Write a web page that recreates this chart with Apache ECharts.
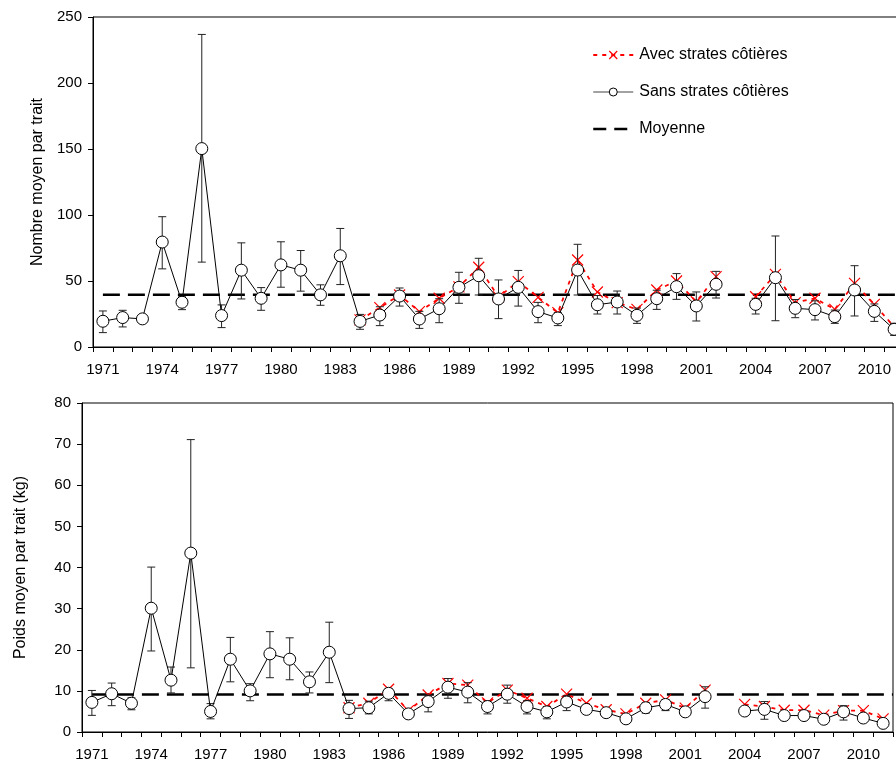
<!DOCTYPE html>
<html><head><meta charset="utf-8">
<script src="https://cdn.jsdelivr.net/npm/echarts@6/dist/echarts.min.js"></script>
<style>html,body{margin:0;padding:0;background:#fff}#c{width:896px;height:761px}</style>
</head><body><div id="c"></div>
<script>
const years = ['1971','1972','1973','1974','1975','1976','1977','1978','1979','1980','1981','1982','1983','1984','1985','1986','1987','1988','1989','1990','1991','1992','1993','1994','1995','1996','1997','1998','1999','2000','2001','2002','2003','2004','2005','2006','2007','2008','2009','2010','2011'];

const nombreSans = [19.5,22.3,21.3,79.5,33.9,150.3,23.8,58.2,36.9,62.2,58.2,39.5,69.1,
  19.4,24.2,38.6,21.2,29,45.2,54,36.4,45.2,26.8,22,58.3,32,34.1,24,36.6,45.7,31.1,47.5,
  null,32.3,52.5,29.3,28.3,23,43.2,27,13.4];
const nombreAvec = [null,null,null,null,null,null,null,null,null,null,null,null,null,
  20.5,29.8,39.4,26.8,36.9,45.5,60.4,38,49.5,37.6,26,65.9,41.7,33.6,28.5,43.2,50,34.3,53.3,
  null,38.1,55,33.6,36.9,28.5,48.2,32.3,15.4];
const nombreErr = [[10.9,27.3],[15.2,27.8],[20,22.5],[59.2,98.7],[28.3,38],[64.3,236.8],[14.7,31.9],[36.4,78.9],[27.8,45],[45.3,79.7],[42.3,73.1],[31.6,47.1],[47.3,89.8],
  [13.4,24.7],[16.2,30.5],[31,44.7],[14.1,27],[18.4,36.6],[33.1,56.6],[39.4,67.2],[21.5,50.8],[31,58],[18.4,33.8],[16.2,26],[39.4,77.8],[25,39],[25,42.4],[17.9,29.5],[28.5,43],[36.1,55.6],[19.7,41.7],[37.1,57.3],
  null,[25,36.9],[19.9,84.1],[22.2,36],[20.5,35],[17.9,28],[23.5,61.6],[19.4,32.6],[8.8,18]];
const meanNombre = 39.5;

const poidsSans = [7.2,9.3,7.0,30.1,12.6,43.5,5.0,17.7,10.0,19.0,17.7,12.2,19.4,
  5.7,5.9,9.4,4.4,7.4,10.9,9.7,6.2,9.2,6.2,4.9,7.3,5.5,4.7,3.2,5.9,6.7,4.9,8.6,
  null,5.1,5.5,4.0,4.0,3.1,4.9,3.4,2.1];
const poidsAvec = [null,null,null,null,null,null,null,null,null,null,null,null,null,
  5.9,7.0,10.4,5.2,9.0,11.8,11.4,7.1,10.2,8.2,6.2,9.2,7.0,5.4,4.4,7.0,7.8,5.8,10.2,
  null,6.7,6.2,5.3,5.3,4.1,5.2,5.2,3.2];
const poidsErr = [[4.05,10.1],[6.4,11.9],[5.4,8.3],[19.7,40.1],[9.5,15.8],[15.6,71.1],[3.2,6.9],[12.2,23],[7.6,11.75],[13.2,24.4],[12.7,22.9],[9.5,14.6],[12,26.7],
  [3.3,7.7],[4.4,7.5],[7.6,10.6],[4,4.8],[4.9,9],[8.2,13],[7.1,12],[4.4,7.5],[7,11.4],[4.4,7.6],[3.2,6.2],[5.2,8.8],[4.6,6.4],[4,5.4],[2.8,3.6],[4.6,7.1],[5.2,7.9],[4.2,5.6],[5.8,11],
  null,[4.5,5.7],[3.1,7.4],[3.4,4.6],[3.3,4.7],[2.6,3.6],[2.9,6.4],[2.9,3.9],[1.6,2.6]];
const meanPoids = 9.1;

const yTicksNombre = {min:0, max:250, interval:50};
const yTicksPoids = {min:0, max:80, interval:10};

const FONT = '"Liberation Sans", Arial, sans-serif';
const NAME_AVEC = 'Avec strates côtières';
const NAME_SANS = 'Sans strates côtières';
const NAME_MEAN = 'Moyenne';

function errData(arr){
  const out = [];
  arr.forEach((e,i)=>{ if(e) out.push([i, e[0], e[1]]); });
  return out;
}
function renderErr(params, api){
  const x = api.value(0);
  const lo = api.coord([x, api.value(1)]);
  const hi = api.coord([x, api.value(2)]);
  const w = 4;
  const st = {stroke:'#222', lineWidth:1};
  return {type:'group', children:[
    {type:'line', shape:{x1:lo[0],y1:lo[1],x2:hi[0],y2:hi[1]}, style:st},
    {type:'line', shape:{x1:hi[0]-w,y1:hi[1],x2:hi[0]+w,y2:hi[1]}, style:st},
    {type:'line', shape:{x1:lo[0]-w,y1:lo[1],x2:lo[0]+w,y2:lo[1]}, style:st}
  ]};
}

const catAxis = (gi) => ({
  type:'category', gridIndex:gi, data:years, boundaryGap:true,
  axisLine:{show:true, lineStyle:{color:'#000', width:1}},
  axisTick:{show:true, interval:0, length:5, inside:false, lineStyle:{color:'#000'}},
  axisLabel:{interval:2, color:'#000', fontFamily:FONT, fontSize:15, margin:15},
  splitLine:{show:false}
});
const valAxis = (gi, t, name, gap) => ({
  type:'value', gridIndex:gi, min:t.min, max:t.max, interval:t.interval,
  name:name, nameLocation:'middle', nameGap:gap, nameRotate:90,
  nameTextStyle:{color:'#000', fontFamily:FONT, fontSize:16},
  axisLine:{show:true, lineStyle:{color:'#000', width:1}},
  axisTick:{show:true, length:5, lineStyle:{color:'#000'}},
  axisLabel:{color:'#000', fontFamily:FONT, fontSize:15, margin:11},
  splitLine:{show:false}
});
const meanAxis = (gi) => ({type:'value', gridIndex:gi, min:1970.5, max:2011.5, show:false});

const xSymbol = 'path://M0,0L10,10M10,0L0,10';

function seriesFor(gi, sans, avec, err, mean){
  return [
    {name:NAME_MEAN, type:'line', xAxisIndex:2+gi, yAxisIndex:gi, data:[[1971, mean],[2011.5, mean]],
      symbol:'none', lineStyle:{color:'#000', width:2.5, type:[17,8]}, itemStyle:{color:'#000'}, z:1, silent:true, animation:false},
    {name:NAME_AVEC, type:'line', xAxisIndex:gi, yAxisIndex:gi, data:avec, connectNulls:false,
      symbol:xSymbol, symbolSize:11, showAllSymbol:true,
      lineStyle:{color:'#ff0000', width:1.8, type:[4,5]},
      itemStyle:{color:'transparent', borderColor:'#ff0000', borderWidth:1.2}, z:2, animation:false},
    {name:'err'+gi, type:'custom', xAxisIndex:gi, yAxisIndex:gi, data:errData(err), renderItem:renderErr, z:3, animation:false, silent:true},
    {name:NAME_SANS, type:'line', xAxisIndex:gi, yAxisIndex:gi, data:sans, connectNulls:false,
      symbol:'circle', symbolSize:12, showAllSymbol:true,
      lineStyle:{color:'#000', width:1},
      itemStyle:{color:'#fff', borderColor:'#000', borderWidth:1}, z:4, animation:false}
  ];
}

const chart = echarts.init(document.getElementById('c'), null, {renderer:'canvas'});
chart.setOption({
  backgroundColor:'#fff',
  animation:false,
  textStyle:{fontFamily:FONT},
  grid:[
    {left:93, top:17, width:811, height:330, show:true, borderColor:'#000', borderWidth:1, backgroundColor:'transparent', outerBoundsMode:'none', containLabel:false},
    {left:82, top:403, width:811, height:329, show:true, borderColor:'#000', borderWidth:1, backgroundColor:'transparent', outerBoundsMode:'none', containLabel:false}
  ],
  legend:{
    data:[
      {name:NAME_AVEC, itemStyle:{color:'transparent', borderColor:'#ff0000', borderWidth:1.2}, lineStyle:{color:'#ff0000', width:1.8, type:[4,5]}},
      {name:NAME_SANS, itemStyle:{color:'#fff', borderColor:'#000', borderWidth:1}, lineStyle:{color:'#444', width:1, type:'solid'}},
      {name:NAME_MEAN, itemStyle:{color:'transparent', borderColor:'transparent', borderWidth:0}, lineStyle:{color:'#000', width:2.5, type:[13,8]}}
    ],
    orient:'vertical', left:592, top:47, padding:0,
    itemWidth:40, itemHeight:10, itemGap:21,
    textStyle:{color:'#000', fontFamily:FONT, fontSize:16, padding:[0,0,0,1]}, selectedMode:false
  },
  xAxis:[catAxis(0), catAxis(1), meanAxis(0), meanAxis(1)],
  yAxis:[valAxis(0, yTicksNombre, 'Nombre moyen par trait', 46), valAxis(1, yTicksPoids, 'Poids moyen par trait (kg)', 53)],
  series:[].concat(seriesFor(0, nombreSans, nombreAvec, nombreErr, meanNombre), seriesFor(1, poidsSans, poidsAvec, poidsErr, meanPoids))
});
</script></body></html>
